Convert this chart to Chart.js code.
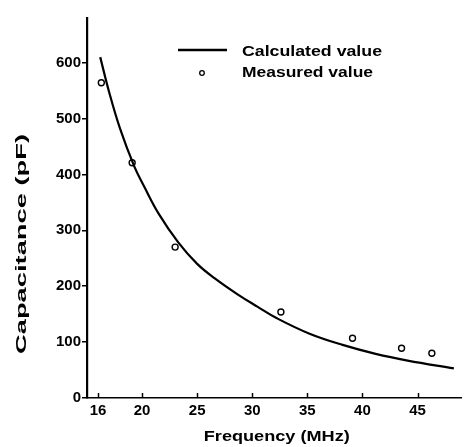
<!DOCTYPE html>
<html>
<head>
<meta charset="utf-8">
<script src="https://cdn.jsdelivr.net/npm/chart.js@4/dist/chart.umd.min.js"></script>
<style>
  html, body { margin: 0; padding: 0; background: #fff; }
  #wrap { width: 467px; height: 447px; }
</style>
</head>
<body>
<div id="wrap"><canvas id="c" width="467" height="447"></canvas></div>
<script>
// Calculated capacitance curve (frequency in MHz, capacitance in pF)
const calcFreq = [16.2, 17.0, 18.0, 19.3, 20.2, 21.5, 23.3, 25.0, 26.6, 28.7, 30.5, 32.2, 35.2, 38.2, 41.2, 44.1, 48.3];
const calcCap  = [610, 548, 482, 414, 378, 330, 278, 240, 214, 185, 163, 143, 115, 95, 79, 67, 53];

// Measured points
const measFreq = [16.3, 19.1, 23.0, 32.6, 39.1, 43.55, 46.3];
const measCap  = [564, 421, 270, 154, 107, 89, 80];

// Axis ticks
const xTicks = [16, 20, 25, 30, 35, 40, 45];
const yTicks = [0, 100, 200, 300, 400, 500, 600];

const seriesNames = ['Calculated value', 'Measured value'];
const xTitle = 'Frequency (MHz)';
const yTitle = 'Capacitance (pF)';

const FONT = '"Liberation Sans", Arial, sans-serif';

function toXY(xs, ys) { return xs.map((x, i) => ({ x: x, y: ys[i] })); }

// Draw a string stretched/squeezed horizontally to a given width
function fitText(ctx, text, x, y, width, align) {
  const w = ctx.measureText(text).width;
  const s = width / w;
  ctx.save();
  ctx.translate(x, y);
  ctx.scale(s, 1);
  ctx.textAlign = align || 'left';
  ctx.fillText(text, 0, 0);
  ctx.restore();
}

const decor = {
  id: 'decor',
  afterDraw(chart) {
    const ctx = chart.ctx;
    const xs = chart.scales.x;
    const area = chart.chartArea;
    ctx.save();
    ctx.fillStyle = '#000';
    ctx.strokeStyle = '#000';

    // inward tick marks on the frequency axis
    ctx.lineWidth = 1.5;
    xTicks.forEach(v => {
      const px = Math.round(xs.getPixelForValue(v)) + 0.5;
      ctx.beginPath();
      ctx.moveTo(px, area.bottom);
      ctx.lineTo(px, area.bottom - 5);
      ctx.stroke();
    });

    // axis titles
    ctx.font = 'bold 15px ' + FONT;
    ctx.textBaseline = 'middle';
    fitText(ctx, xTitle, (xs.getPixelForValue(16) + xs.getPixelForValue(45)) / 2 + 19, 437, 146, 'center');
    ctx.save();
    ctx.translate(22, 244);
    ctx.rotate(-Math.PI / 2);
    fitText(ctx, yTitle, 0, 0, 220, 'center');
    ctx.restore();

    // legend
    const ds = chart.data.datasets;
    ctx.lineWidth = 2.5;
    ctx.beginPath();
    ctx.moveTo(178, 50);
    ctx.lineTo(227, 50);
    ctx.stroke();
    ctx.lineWidth = 1.3;
    ctx.fillStyle = '#fff';
    ctx.beginPath();
    ctx.arc(202, 73, 2.3, 0, Math.PI * 2);
    ctx.fill();
    ctx.stroke();
    ctx.fillStyle = '#000';
    ctx.font = 'bold 15px ' + FONT;
    ctx.textBaseline = 'middle';
    fitText(ctx, ds[0].label, 242, 52, 140, 'left');
    fitText(ctx, ds[1].label, 242, 73, 131, 'left');
    ctx.restore();
  }
};

new Chart(document.getElementById('c'), {
  type: 'scatter',
  data: {
    datasets: [
      {
        label: seriesNames[0],
        data: toXY(calcFreq, calcCap),
        showLine: true,
        borderColor: '#000',
        borderWidth: 2.2,
        pointRadius: 0,
        tension: 0.4,
        fill: false
      },
      {
        label: seriesNames[1],
        data: toXY(measFreq, measCap),
        showLine: false,
        pointStyle: 'circle',
        pointRadius: 3,
        pointBorderWidth: 1.4,
        pointBorderColor: '#000',
        pointBackgroundColor: '#fff'
      }
    ]
  },
  options: {
    responsive: false,
    animation: false,
    devicePixelRatio: 1,
    layout: { padding: { top: 18, right: 1, left: 0, bottom: 0 } },
    plugins: { legend: { display: false }, tooltip: { enabled: false } },
    scales: {
      x: {
        type: 'linear',
        min: 15,
        max: 49,
        afterBuildTicks(s) { s.ticks = xTicks.map(v => ({ value: v })); },
        afterFit(s) { s.height = 49; },
        grid: { display: false, drawTicks: false },
        border: { display: true, color: '#000', width: 1.6 },
        ticks: {
          color: '#000',
          padding: 4,
          maxRotation: 0,
          autoSkip: false,
          font: { family: FONT, size: 15, weight: 'bold' }
        },
        title: { display: false }
      },
      y: {
        type: 'linear',
        min: 0,
        max: 680,
        afterBuildTicks(s) { s.ticks = yTicks.map(v => ({ value: v })); },
        afterFit(s) { s.width = 87; },
        grid: { display: true, drawOnChartArea: false, drawTicks: true, tickLength: 5, color: '#000', lineWidth: 1.5 },
        border: { display: true, color: '#000', width: 2.2 },
        ticks: {
          color: '#000',
          padding: 1,
          autoSkip: false,
          font: { family: FONT, size: 15, weight: 'bold' }
        },
        title: { display: false }
      }
    }
  },
  plugins: [decor]
});
</script>
</body>
</html>
